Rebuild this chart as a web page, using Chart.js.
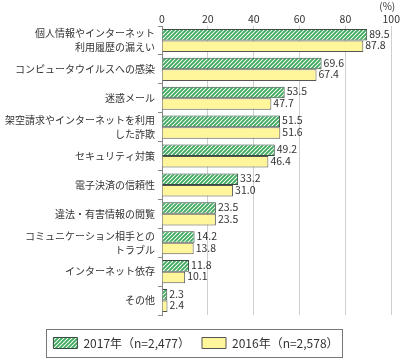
<!DOCTYPE html>
<html>
<head>
<meta charset="utf-8">
<script src="https://cdn.jsdelivr.net/npm/chart.js@4.4.1/dist/chart.umd.min.js"></script>
<style>
  html, body { margin: 0; padding: 0; background: #fff; }
  #wrap { width: 401px; height: 361px; position: relative; }
</style>
</head>
<body>
<div id="wrap"><canvas id="chart" width="401" height="361"></canvas></div>
<script>
// categories (multi-line labels as arrays)
const categories = [
  ["個人情報やインターネット", "利用履歴の漏えい"],
  "コンピュータウイルスへの感染",
  "迷惑メール",
  ["架空請求やインターネットを利用", "した詐欺"],
  "セキュリティ対策",
  "電子決済の信頼性",
  "違法・有害情報の閲覧",
  ["コミュニケーション相手との", "トラブル"],
  "インターネット依存",
  "その他",
];
const values2017 = [89.5, 69.6, 53.5, 51.5, 49.2, 33.2, 23.5, 14.2, 11.8, 2.3];
const values2016 = [87.8, 67.4, 47.7, 51.6, 46.4, 31.0, 23.5, 13.8, 10.1, 2.4];
const seriesNames = ["2017年（n=2,477）", "2016年（n=2,578）"];
const xTicks = [0, 20, 40, 60, 80, 100];

const FONT = '"Noto Sans CJK JP", "Noto Sans", sans-serif';
const LEGEND_GAP = 10;

// diagonal green hatch (////)
function makeHatch() {
  const c = document.createElement("canvas");
  c.width = 4; c.height = 4;
  const g = c.getContext("2d");
  g.fillStyle = "#ffffff";
  g.fillRect(0, 0, 4, 4);
  g.strokeStyle = "#3daa5c";
  g.lineWidth = 1.9;
  g.beginPath();
  g.moveTo(-1, 5); g.lineTo(5, -1);
  g.moveTo(-1, 1); g.lineTo(1, -1);
  g.moveTo(3, 5); g.lineTo(5, 3);
  g.stroke();
  return g.createPattern(c, "repeat");
}

// numbers just past the end of each bar
const valueLabels = {
  id: "valueLabels",
  afterDatasetsDraw(chart) {
    const { ctx } = chart;
    ctx.save();
    ctx.font = "10.5px " + FONT;
    ctx.fillStyle = "#333";
    ctx.textBaseline = "middle";
    ctx.textAlign = "left";
    chart.data.datasets.forEach((ds, di) => {
      const meta = chart.getDatasetMeta(di);
      meta.data.forEach((bar, i) => {
        const v = ds.data[i];
        ctx.fillText(v.toFixed(1), bar.x + 2, bar.y - 1);
      });
    });
    ctx.restore();
  },
};

// extra room above the legend so the plot ends higher
const legendRoom = {
  id: "legendRoom",
  beforeInit(chart) {
    const fit = chart.legend.fit;
    chart.legend.fit = function () {
      fit.call(this);
      this.height += LEGEND_GAP;
    };
  },
  afterLayout(chart) {
    chart.legend.top += LEGEND_GAP;
  },
};

// "(%)" unit and frame round the legend
const extras = {
  id: "extras",
  afterDraw(chart) {
    const { ctx } = chart;
    const xs = chart.scales.x;
    ctx.save();
    ctx.font = "10px " + FONT;
    ctx.fillStyle = "#333";
    ctx.textAlign = "center";
    ctx.textBaseline = "middle";
    ctx.fillText("(%)", xs.getPixelForValue(100) - 4, 6);

    const boxes = chart.legend.legendHitBoxes;
    if (boxes && boxes.length) {
      const l = Math.min(...boxes.map((b) => b.left)) - 7;
      const r = Math.max(...boxes.map((b) => b.left + b.width)) + 4;
      const t = boxes[0].top - 8;
      const h = boxes[0].height + 16;
      ctx.strokeStyle = "#777";
      ctx.lineWidth = 1;
      ctx.strokeRect(Math.round(l) + 0.5, Math.round(t) + 0.5, Math.round(r - l), Math.round(h));
    }
    ctx.restore();
  },
};

const hatch = makeHatch();

new Chart(document.getElementById("chart"), {
  type: "bar",
  plugins: [legendRoom, valueLabels, extras],
  data: {
    labels: categories,
    datasets: [
      {
        label: seriesNames[0],
        data: values2017,
        backgroundColor: hatch,
        borderColor: "#3b4a40",
        borderWidth: 1,
        borderSkipped: "start",
        categoryPercentage: 0.8,
        barPercentage: 1.0,
      },
      {
        label: seriesNames[1],
        data: values2016,
        backgroundColor: "#fff59a",
        borderColor: "#555",
        borderWidth: 1,
        borderSkipped: "start",
        categoryPercentage: 0.8,
        barPercentage: 1.0,
      },
    ],
  },
  options: {
    indexAxis: "y",
    responsive: false,
    animation: false,
    devicePixelRatio: 1,
    layout: { padding: { left: 0, right: 9, top: 0, bottom: 2 } },
    plugins: {
      legend: {
        position: "bottom",
        labels: {
          boxWidth: 24,
          boxHeight: 11,
          padding: 12,
          color: "#333",
          font: { family: FONT, size: 12 },
        },
      },
      tooltip: { enabled: false },
    },
    scales: {
      x: {
        position: "top",
        min: 0,
        max: 100,
        afterBuildTicks: (s) => { s.ticks = xTicks.map((v) => ({ value: v })); },
        afterFit: (s) => { s.height = 26; },
        ticks: {
          color: "#333",
          padding: 1,
          font: { family: FONT, size: 10.5 },
        },
        grid: { color: "#cfcfcf", drawTicks: false },
        border: { display: false },
      },
      y: {
        afterFit: (s) => { s.width = 162; },
        ticks: {
          autoSkip: false,
          color: "#333",
          padding: 3,
          font: { family: FONT, size: 10, lineHeight: 1.4 },
        },
        grid: { drawOnChartArea: false, tickLength: 4, color: "#888", offset: true },
        border: { color: "#888" },
      },
    },
  },
});
</script>
</body>
</html>
